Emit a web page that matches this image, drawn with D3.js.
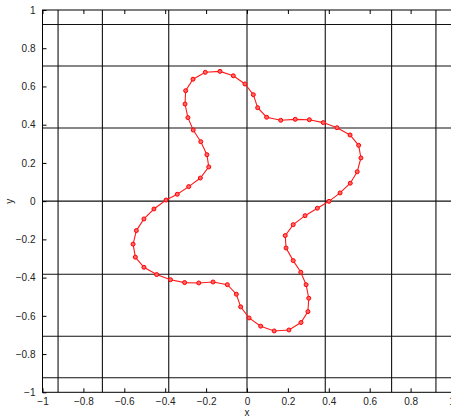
<!DOCTYPE html>
<html>
<head>
<meta charset="utf-8">
<script src="https://cdn.jsdelivr.net/npm/d3@7"></script>
<style>
  body { margin: 0; background: #fff; }
  svg { display: block; font-family: "Liberation Sans", Arial, sans-serif; }
</style>
</head>
<body>
<svg id="chart" width="451" height="417"></svg>
<script>
// curve points
var xs = [-0.396, -0.341, -0.285, -0.228, -0.187, -0.196, -0.226, -0.263, -0.289, -0.303,
          -0.300, -0.264, -0.204, -0.132, -0.067, -0.010, 0.031, 0.052, 0.096, 0.165,
          0.236, 0.305, 0.373, 0.440, 0.504, 0.546, 0.557, 0.539, 0.505, 0.455,
          0.401, 0.344, 0.284, 0.226, 0.187, 0.191, 0.226, 0.263, 0.289, 0.302,
          0.298, 0.264, 0.205, 0.133, 0.067, 0.010, -0.031, -0.052, -0.096, -0.166,
          -0.236, -0.305, -0.374, -0.442, -0.504, -0.546, -0.557, -0.541, -0.504, -0.455];
var ys = [0.006, 0.036, 0.076, 0.121, 0.179, 0.243, 0.311, 0.372, 0.437, 0.508,
          0.578, 0.638, 0.674, 0.679, 0.656, 0.613, 0.557, 0.489, 0.439, 0.423,
          0.428, 0.426, 0.411, 0.384, 0.346, 0.292, 0.226, 0.154, 0.094, 0.043,
          -0.001, -0.037, -0.076, -0.123, -0.180, -0.245, -0.311, -0.372, -0.437, -0.508,
          -0.578, -0.635, -0.674, -0.679, -0.654, -0.611, -0.553, -0.487, -0.437, -0.423,
          -0.428, -0.426, -0.411, -0.384, -0.346, -0.293, -0.225, -0.154, -0.093, -0.041];

// grid lines (cos(k*pi/8))
var gridVals = [-0.9239, -0.7071, -0.3827, 0, 0.3827, 0.7071, 0.9239];
var tickVals = [-1, -0.8, -0.6, -0.4, -0.2, 0, 0.2, 0.4, 0.6, 0.8, 1];

var svg = d3.select("#chart");

var x = d3.scaleLinear().domain([-1, 1]).range([42.5, 451.5]);
var y = d3.scaleLinear().domain([-1, 1]).range([392.3, 10]);

var fmt = d3.format("~g");

// grid
svg.selectAll(".vgrid")
    .data(gridVals)
    .enter().append("line")
    .attr("class", "vgrid")
    .attr("x1", function(d) { return x(d); })
    .attr("x2", function(d) { return x(d); })
    .attr("y1", y(1))
    .attr("y2", y(-1))
    .style("stroke", "#111")
    .style("stroke-width", 1.1);

svg.selectAll(".hgrid")
    .data(gridVals)
    .enter().append("line")
    .attr("class", "hgrid")
    .attr("y1", function(d) { return y(d); })
    .attr("y2", function(d) { return y(d); })
    .attr("x1", x(-1))
    .attr("x2", x(1))
    .style("stroke", "#111")
    .style("stroke-width", 1.1);

// axes, ticks pointing inward
var xAxis = svg.append("g")
    .attr("transform", "translate(0," + y(-1) + ")")
    .call(d3.axisBottom(x).tickValues(tickVals).tickFormat(fmt).tickSize(-4).tickPadding(6));
var xTop = svg.append("g")
    .attr("transform", "translate(0," + y(1) + ")")
    .call(d3.axisTop(x).tickValues(tickVals).tickFormat("").tickSize(-4));
var yAxis = svg.append("g")
    .attr("transform", "translate(" + x(-1) + ",0)")
    .call(d3.axisLeft(y).tickValues(tickVals).tickFormat(fmt).tickSize(-4).tickPadding(7));

[xAxis, xTop, yAxis].forEach(function(g) {
    g.select(".domain").remove();
    g.selectAll("line").style("stroke", "#000");
    g.selectAll("text").style("font-size", "10px").style("fill", "#222")
        .style("font-family", "'Liberation Sans', Arial, sans-serif");
});

// box
svg.append("rect")
    .attr("x", x(-1))
    .attr("y", y(1))
    .attr("width", x(1) - x(-1))
    .attr("height", y(-1) - y(1))
    .style("fill", "none")
    .style("stroke", "#000")
    .style("stroke-width", 1);

// curve
var pts = xs.map(function(d, i) { return [d, ys[i]]; });
var line = d3.line()
    .x(function(d) { return x(d[0]); })
    .y(function(d) { return y(d[1]); })
    .curve(d3.curveLinearClosed);

svg.append("path")
    .datum(pts)
    .attr("d", line)
    .style("fill", "none")
    .style("stroke", "#ff1a1a")
    .style("stroke-width", 1.1);

svg.selectAll(".pt")
    .data(pts)
    .enter().append("circle")
    .attr("class", "pt")
    .attr("cx", function(d) { return x(d[0]); })
    .attr("cy", function(d) { return y(d[1]); })
    .attr("r", 2)
    .style("fill", "#ff6666")
    .style("stroke", "#ff0000")
    .style("stroke-width", 1);

// axis titles
svg.append("text")
    .attr("x", x(0))
    .attr("y", 416)
    .attr("text-anchor", "middle")
    .style("font-size", "10px")
    .style("fill", "#222")
    .text("x");

svg.append("text")
    .attr("transform", "translate(13," + y(0) + ") rotate(-90)")
    .attr("text-anchor", "middle")
    .style("font-size", "10px")
    .style("fill", "#222")
    .text("y");
</script>
</body>
</html>
